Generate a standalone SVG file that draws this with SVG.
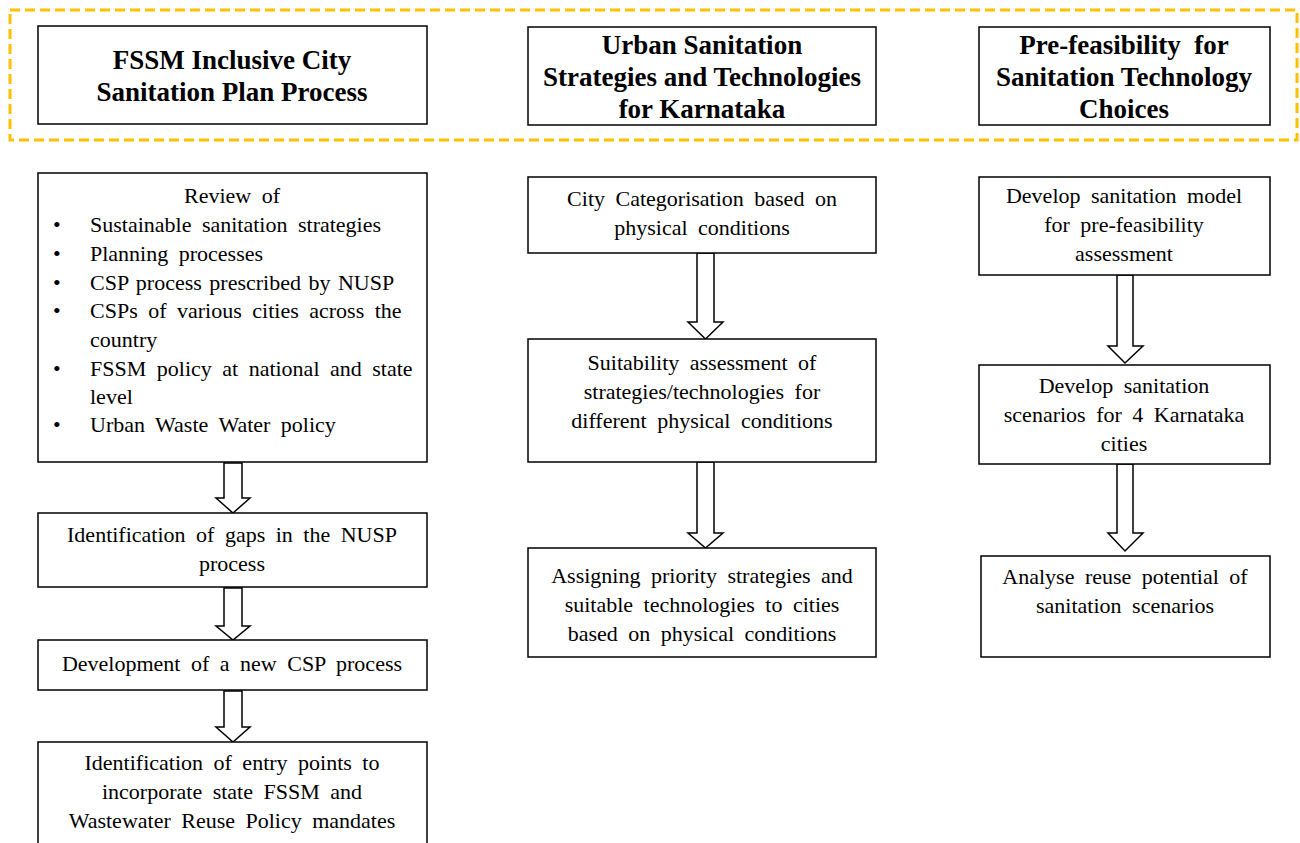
<svg xmlns="http://www.w3.org/2000/svg" width="1300" height="843" viewBox="0 0 1300 843">
  <style>
    .box { fill: #ffffff; stroke: #000000; stroke-width: 1.5; }
    .frame { fill: none; stroke: #FFC000; stroke-width: 3; stroke-dasharray: 10 5; }
    .head { font-weight: bold; font-size: 27px; fill: #000; text-anchor: middle; }
    .body { font-size: 22px; fill: #000; text-anchor: middle; word-spacing: 5px; }
    .list { font-size: 22px; fill: #000; word-spacing: 5px; }
    .arrow { fill: #ffffff; stroke: #000000; stroke-width: 1.5; stroke-linejoin: miter; }
  </style>

  <g font-family="Liberation Serif, Times New Roman, serif">
  <!-- header band -->
  <rect class="frame" x="10" y="10" width="1287" height="130"/>

  <g id="head-fssm">
    <rect class="box" x="38" y="26" width="389" height="98"/>
    <text class="head" x="232" y="69">FSSM Inclusive City</text>
    <text class="head" x="232" y="101">Sanitation Plan Process</text>
  </g>
  <g id="head-urban">
    <rect class="box" x="528" y="27" width="348" height="98"/>
    <text class="head" x="702" y="54">Urban Sanitation</text>
    <text class="head" x="702" y="86">Strategies and Technologies</text>
    <text class="head" x="702" y="118">for Karnataka</text>
  </g>
  <g id="head-prefeas">
    <rect class="box" x="979" y="27" width="291" height="98"/>
    <text class="head" x="1124" y="54">Pre-feasibility&#160; for</text>
    <text class="head" x="1124" y="86">Sanitation Technology</text>
    <text class="head" x="1124" y="118">Choices</text>
  </g>

  <!-- connectors -->
  <g id="connectors">
    <polygon class="arrow" points="224,463 242,463 242,498 250,498 233,513 216,498 224,498"/>
    <polygon class="arrow" points="224,588 242,588 242,626 250,626 233,640 216,626 224,626"/>
    <polygon class="arrow" points="224,691 242,691 242,727 250,727 233,742 216,727 224,727"/>
    <polygon class="arrow" points="697,253 714,253 714,322 723,322 705.5,339 688,322 697,322"/>
    <polygon class="arrow" points="697,462 714,462 714,533 723,533 705.5,548 688,533 697,533"/>
    <polygon class="arrow" points="1117,275 1133,275 1133,346 1143,346 1125,363 1108,346 1117,346"/>
    <polygon class="arrow" points="1117,464 1133,464 1133,533 1143,533 1125,551 1108,533 1117,533"/>
  </g>

  <!-- left column -->
  <g id="review">
    <rect class="box" x="38" y="173" width="389" height="289"/>
    <text class="body" x="232" y="203">Review of</text>
    <g class="list">
      <text x="53" y="232">•</text><text x="90" y="232">Sustainable sanitation strategies</text>
      <text x="53" y="261">•</text><text x="90" y="261">Planning processes</text>
      <text x="53" y="290">•</text><text x="90" y="290" word-spacing="2">CSP process prescribed by NUSP</text>
      <text x="53" y="318">•</text><text x="90" y="318">CSPs of various cities across the</text>
      <text x="90" y="347">country</text>
      <text x="53" y="376">•</text><text x="90" y="376">FSSM policy at national and state</text>
      <text x="90" y="404">level</text>
      <text x="53" y="432">•</text><text x="90" y="432">Urban Waste Water policy</text>
    </g>
  </g>
  <g id="gaps">
    <rect class="box" x="38" y="513" width="389" height="74"/>
    <text class="body" x="232" y="542">Identification of gaps in the NUSP</text>
    <text class="body" x="232" y="571">process</text>
  </g>
  <g id="new-csp">
    <rect class="box" x="38" y="640" width="389" height="50"/>
    <text class="body" x="232" y="671">Development of a new CSP process</text>
  </g>
  <g id="entry-points">
    <rect class="box" x="38" y="742" width="389" height="110"/>
    <text class="body" x="232" y="770">Identification of entry points to</text>
    <text class="body" x="232" y="799">incorporate state FSSM and</text>
    <text class="body" x="232" y="828">Wastewater Reuse Policy mandates</text>
  </g>

  <!-- middle column -->
  <g id="categorisation">
    <rect class="box" x="528" y="177" width="348" height="76"/>
    <text class="body" x="702" y="206">City Categorisation based on</text>
    <text class="body" x="702" y="235">physical conditions</text>
  </g>
  <g id="suitability">
    <rect class="box" x="528" y="339" width="348" height="123"/>
    <text class="body" x="702" y="370">Suitability assessment of</text>
    <text class="body" x="702" y="399">strategies/technologies for</text>
    <text class="body" x="702" y="428">different physical conditions</text>
  </g>
  <g id="priority">
    <rect class="box" x="528" y="548" width="348" height="109"/>
    <text class="body" x="702" y="583">Assigning priority strategies and</text>
    <text class="body" x="702" y="612">suitable technologies to cities</text>
    <text class="body" x="702" y="641">based on physical conditions</text>
  </g>

  <!-- right column -->
  <g id="model">
    <rect class="box" x="979" y="177" width="291" height="98"/>
    <text class="body" x="1124" y="203">Develop sanitation model</text>
    <text class="body" x="1124" y="232">for pre-feasibility</text>
    <text class="body" x="1124" y="261">assessment</text>
  </g>
  <g id="scenarios">
    <rect class="box" x="979" y="365" width="291" height="99"/>
    <text class="body" x="1124" y="393">Develop sanitation</text>
    <text class="body" x="1124" y="422">scenarios for 4 Karnataka</text>
    <text class="body" x="1124" y="451">cities</text>
  </g>
  <g id="reuse">
    <rect class="box" x="981" y="556" width="289" height="101"/>
    <text class="body" x="1125" y="584">Analyse reuse potential of</text>
    <text class="body" x="1125" y="613">sanitation scenarios</text>
  </g>
  </g>
</svg>
